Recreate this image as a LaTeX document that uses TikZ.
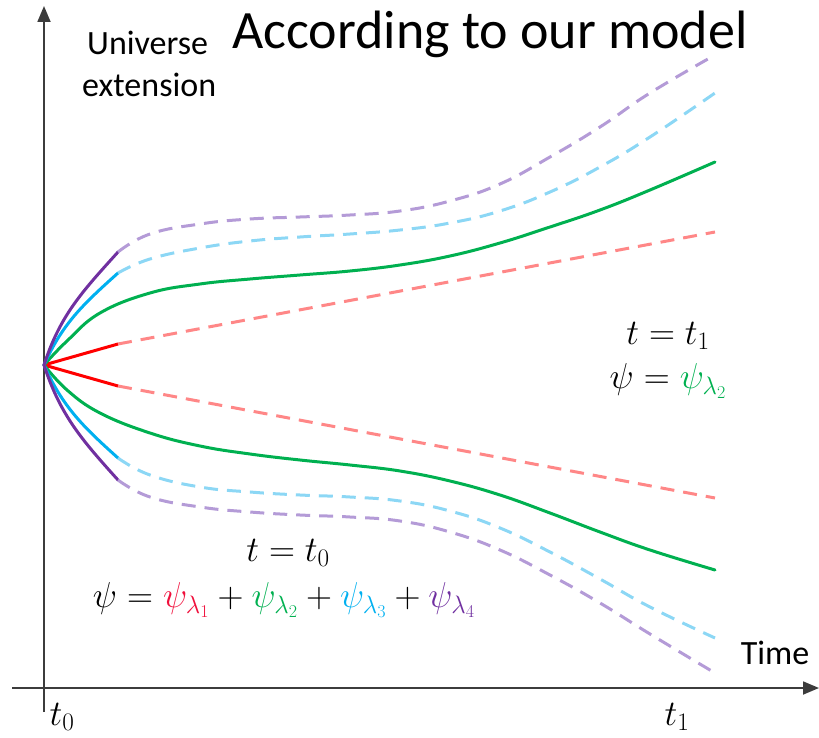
\RequirePackage{fix-cm}
\documentclass[tikz,border=0pt]{standalone}
\usepackage{fontspec}
\setmainfont{Carlito}
\usetikzlibrary{arrows.meta}
\definecolor{cred}{HTML}{FF0000}
\definecolor{cgreen}{HTML}{00B050}
\definecolor{cblue}{HTML}{00B0F0}
\definecolor{cpurple}{HTML}{7030A0}
\definecolor{lred}{RGB}{255,135,135}
\definecolor{lblue}{RGB}{140,215,245}
\definecolor{lpurple}{RGB}{180,155,215}
\definecolor{mred}{HTML}{F0103C}
\definecolor{axisgray}{RGB}{60,60,60}
\begin{document}
\begin{tikzpicture}[x=1pt,y=-1pt,
  axisline/.style={draw=axisgray,line width=1.8pt},
  solidc/.style={line width=3pt,line cap=round},
  dashc/.style={line width=3pt,dash pattern=on 14pt off 9pt},
  lbl/.style={inner sep=0pt,font=\fontsize{34}{40}\selectfont},
  mth/.style={inner sep=0pt,font=\fontsize{36}{42}\selectfont}]
\useasboundingbox (0,0) rectangle (819,738);
% axes
\coordinate (xs) at (12,688);
\coordinate (xe) at (819,688);
\coordinate (ys) at (44,712);
\coordinate (ye) at (44,6);
\draw[axisline,-{Triangle[length=16pt,width=13pt]}] (xs) -- (xe);
\draw[axisline,-{Triangle[length=16pt,width=13pt]}] (ys) -- (ye);
\coordinate (O) at (44,365);
% red
\coordinate (ru) at (118,344);
\coordinate (rl) at (118,386);
\draw[solidc,cred] (O) -- (ru);
\draw[solidc,cred] (O) -- (rl);
\draw[dashc,lred] (ru) -- (715,232);
\draw[dashc,lred] (rl) -- (715,498);
% green
\draw[solidc,cgreen] plot[smooth,tension=0.7] coordinates {(44,365) (67,341) (100,313) (150,293) (200,284) (250,279) (300,275) (350,271) (400,265) (450,256) (500,243) (550,227) (600,210) (650,190) (715,162)};
\draw[solidc,cgreen] plot[smooth,tension=0.7] coordinates {(44,365) (67,390) (100,413) (150,433) (200,446) (250,454) (300,460) (350,465) (400,471) (450,481) (500,495) (550,513) (600,532) (650,550) (715,570)};
% blue
\coordinate (bu) at (118,273);
\coordinate (bl) at (118,458);
\draw[solidc,cblue] (O) to[out=66,in=222] (bu);
\draw[solidc,cblue] (O) to[out=-66,in=138] (bl);
\draw[dashc,lblue] plot[smooth,tension=0.75] coordinates {(118,273) (150,259) (200,248) (250,241) (300,237) (350,234) (400,230) (450,223) (500,211) (550,192) (600,167) (650,137) (715,93)};
\draw[dashc,lblue] plot[smooth,tension=0.75] coordinates {(118,458) (150,475) (200,487) (250,492) (300,495) (350,497) (400,501) (450,511) (500,528) (550,552) (600,579) (650,607) (715,638)};
% purple
\coordinate (pu) at (118,252);
\coordinate (pl) at (118,480);
\draw[solidc,cpurple] (O) to[out=72,in=228] (pu);
\draw[solidc,cpurple] (O) to[out=-72,in=132] (pl);
\draw[dashc,lpurple] plot[smooth,tension=0.75] coordinates {(118,252) (150,234) (200,224) (250,219) (300,217) (350,215) (400,211) (450,201) (500,184) (550,157) (600,127) (650,93) (715,55)};
\draw[dashc,lpurple] plot[smooth,tension=0.75] coordinates {(118,480) (150,497) (200,507) (250,512) (300,515) (350,517) (400,521) (450,532) (500,550) (550,575) (600,603) (650,634) (715,673)};
% texts
\node[inner sep=0pt,font=\fontsize{54}{60}\selectfont] (title) at (490,34) {According to our model};
\node[lbl,anchor=west] (univ) at (87,43) {Universe};
\node[lbl,anchor=west] (ext) at (82,85) {extension};
\node[lbl] (time) at (775,653) {Time};
\node[mth] (t0) at (62,717) {$t_0$};
\node[mth] (t1) at (677,717) {$t_1$};
\node[mth] (eq0) at (288,553) {$t=t_0$};
\node[mth] (psi0) at (284,600) {$\psi=\textcolor{mred}{\psi_{\lambda_1}}+\textcolor{cgreen}{\psi_{\lambda_2}}+\textcolor{cblue}{\psi_{\lambda_3}}+\textcolor{cpurple}{\psi_{\lambda_4}}$};
\node[mth] (eq1) at (668,336) {$t=t_1$};
\node[mth] (psi1) at (668,381) {$\psi=\textcolor{cgreen}{\psi_{\lambda_2}}$};
\end{tikzpicture}
\end{document}
